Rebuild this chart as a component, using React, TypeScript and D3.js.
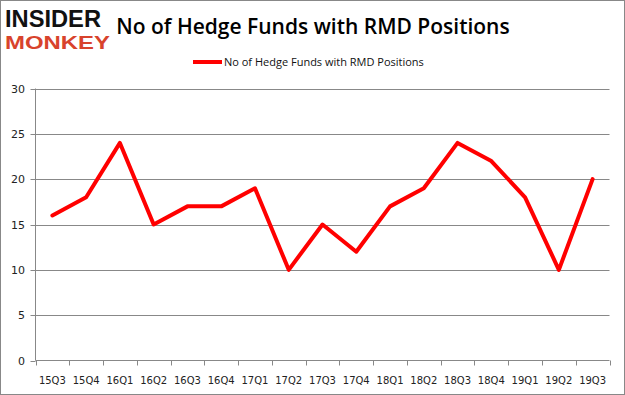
import React from "react";
import * as d3 from "d3";

const categories = ["15Q3","15Q4","16Q1","16Q2","16Q3","16Q4","17Q1","17Q2","17Q3","17Q4","18Q1","18Q2","18Q3","18Q4","19Q1","19Q2","19Q3"];
const values = [16,18,24,15,17,17,19,10,15,12,17,19,24,22,18,10,20];
const yTicks = [0,5,10,15,20,25,30];
const title = "No of Hedge Funds with RMD Positions";
const seriesName = "No of Hedge Funds with RMD Positions";

export default function App() {
  const W = 625, H = 395;
  const left = 35.5, right = 609.5, top = 88.5, bottom = 360.5;
  const x = d3.scaleBand<string>().domain(categories).range([left, right]);
  const y = d3.scaleLinear().domain([0, 30]).range([bottom, top]);
  const line = d3.line<number>()
    .x((_, i) => (x(categories[i]) as number) + x.bandwidth() / 2)
    .y((d) => y(d));
  const tickFont = "'DejaVu Sans', Verdana, sans-serif";
  return (
    <svg width={W} height={H} style={{ position: "absolute", left: 0, top: 0 }}>
      <rect x={0.5} y={0.5} width={W - 1} height={H - 1} fill="#fff" stroke="#888" />
      <g fontFamily="'Liberation Sans', Arial, sans-serif" fontWeight="bold">
        <text x={5} y={27} fontSize={23} fill="#111" textLength={96} lengthAdjust="spacingAndGlyphs">INSIDER</text>
        <text x={5} y={48.5} fontSize={19} fill="#d8432c" textLength={105} lengthAdjust="spacingAndGlyphs">MONKEY</text>
      </g>
      <text x={313} y={34} fontSize={21} textAnchor="middle" fontFamily="'Open Sans', sans-serif" fontWeight={600} fill="#000">{title}</text>
      <line x1={193} x2={222} y1={62} y2={62} stroke="#ff0000" strokeWidth={4} />
      <text x={224} y={66} fontSize={11} fontFamily="'Open Sans', sans-serif" fill="#111">{seriesName}</text>
      {yTicks.filter((t) => t > 0).map((t) => (
        <line key={t} x1={left} x2={right} y1={Math.round(y(t)) + 0.5} y2={Math.round(y(t)) + 0.5} stroke="#888" />
      ))}
      <line x1={left} x2={left} y1={top} y2={bottom} stroke="#888" />
      <line x1={left} x2={right} y1={bottom} y2={bottom} stroke="#888" />
      {yTicks.map((t) => (
        <g key={t}>
          <line x1={left - 5} x2={left} y1={Math.round(y(t)) + 0.5} y2={Math.round(y(t)) + 0.5} stroke="#888" />
          <text x={25} y={y(t) + 4} fontSize={11} textAnchor="end" fontFamily={tickFont} fill="#222">{t}</text>
        </g>
      ))}
      {[...categories, "end"].map((c, i) => {
        const xx = Math.round(left + i * x.step()) + 0.5;
        return <line key={c} x1={xx} x2={xx} y1={bottom} y2={bottom + 5} stroke="#888" />;
      })}
      {categories.map((c) => (
        <text key={c} x={(x(c) as number) + x.bandwidth() / 2} y={384} fontSize={10} textAnchor="middle" fontFamily={tickFont} fill="#222">{c}</text>
      ))}
      <path d={line(values) || ""} fill="none" stroke="#ff0000" strokeWidth={4} strokeLinejoin="round" strokeLinecap="round" />
    </svg>
  );
}
